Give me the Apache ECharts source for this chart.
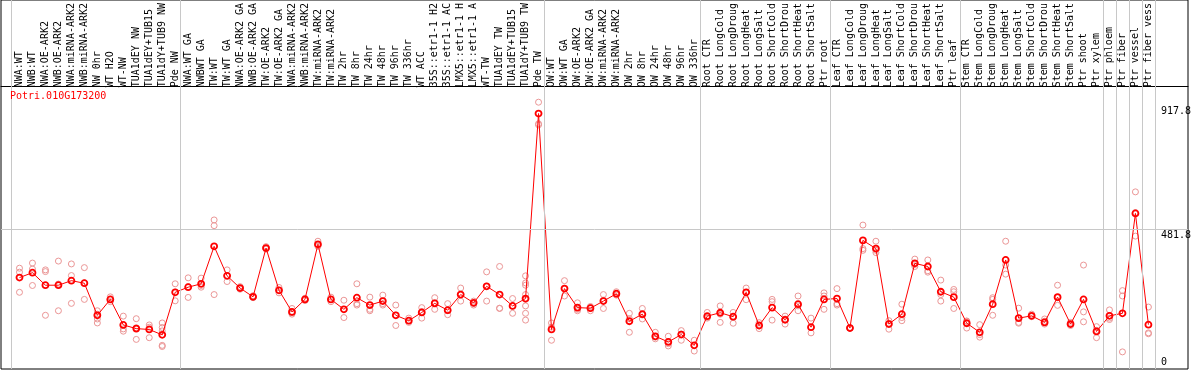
<!DOCTYPE html>
<html><head><meta charset="utf-8">
<script src="https://cdn.jsdelivr.net/npm/echarts@6/dist/echarts.min.js"></script>
<style>html,body{margin:0;padding:0;background:#fff}#c{width:1194px;height:370px}</style>
</head><body><div id="c"></div>
<script>
const geneId = 'Potri.010G173200';
const categories = [
  'NWA:WT','NWB:WT','NWA:OE-ARK2','NWB:OE-ARK2','NWA:miRNA-ARK2','NWB:miRNA-ARK2','NW 0hr','WT H2O','WT-NW','TUA1dEY NW',
  'TUA1dEY+TUB15','TUA1dY+TUB9 NW','Pde NW','NWA:WT GA','NWBWT GA','TW:WT','TW:WT GA','NWA:OE-ARK2 GA','NWB:OE-ARK2 GA','TW:OE-ARK2',
  'TW:OE-ARK2 GA','NWA:miRNA-ARK2','NWB:miRNA-ARK2','TW:miRNA-ARK2','TW:miRNA-ARK2','TW 2hr','TW 8hr','TW 24hr','TW 48hr','TW 96hr',
  'TW 336hr','WT ACC','35S::etr1-1 H2','35S::etr1-1 AC','LMX5::etr1-1 H','LMX5::etr1-1 A','WT-TW','TUA1dEY TW','TUA1dEY+TUB15','TUA1dY+TUB9 TW',
  'Pde TW','OW:WT','OW:WT GA','OW:OE-ARK2','OW:OE-ARK2 GA','OW:miRNA-ARK2','OW:miRNA-ARK2','OW 2hr','OW 8hr','OW 24hr',
  'OW 48hr','OW 96hr','OW 336hr','Root CTR','Root LongCold','Root LongDroug','Root LongHeat','Root LongSalt','Root ShortCold','Root ShortDrou',
  'Root ShortHeat','Root ShortSalt','Ptr root','Leaf CTR','Leaf LongCold','Leaf LongDroug','Leaf LongHeat','Leaf LongSalt','Leaf ShortCold','Leaf ShortDrou',
  'Leaf ShortHeat','Leaf ShortSalt','Ptr leaf','Stem CTR','Stem LongCold','Stem LongDroug','Stem LongHeat','Stem LongSalt','Stem ShortCold','Stem ShortDrou',
  'Stem ShortHeat','Stem ShortSalt','Ptr shoot','Ptr xylem','Ptr phloem','Ptr fiber','Ptr vessel','Ptr fiber vess'
];
const means = [
  316,333,289,289,305,296,183,239,149,136,
  133,114,264,282,294,426,322,279,248,420,
  271,195,239,433,239,204,245,219,233,183,
  164,193,225,201,256,227,285,256,216,242,
  894,133,277,210,208,233,259,162,187,109,
  89,115,77,180,192,178,264,147,210,167,
  222,141,239,242,138,447,418,152,187,366,
  355,266,247,155,123,222,378,173,181,158,
  247,152,239,126,181,190,542,150
];
const replicates = [
  [349,335,264],[367,346,288],[343,337,183],[374,293,199],[364,323,225],[351,297,239],[199,187,170,156],[248,239,231],[180,135,127],[171,139,98],
  [149,141,104],[156,140,128,77,73],[294,265,234],[315,284,246],[314,288,282],[519,499,256],[343,322,302],[284,279,275],[252,246,245],[425,420,416],
  [281,271,262],[207,192,187],[243,239,235],[444,430,426],[247,239,231],[236,204,175],[294,224,219],[247,204,199],[254,224,219],[219,184,147],
  [173,164,158],[210,196,173],[245,227,204],[224,199,185],[279,256,233],[233,224,219],[336,285,233],[355,208,207],[242,215,190],[322,297,289,256,239,216,190,166],
  [934,858,854],[156,141,95],[305,276,251],[227,204,199],[214,211,199],[256,236,207],[266,256,254],[190,171,123],[207,184,170],[123,106,100],
  [109,83,75],[129,117,95],[95,77,57],[193,176,173],[216,187,158],[193,175,155],[279,264,238],[157,146,136],[239,231,166],[180,170,152],
  [251,216,199],[173,141,121],[262,251,204],[277,224,219],[140,138,137],[501,418,412],[444,412,404],[164,155,134],[222,175,164],[381,362,355],
  [378,340,335],[307,256,233],[274,266,207],[163,162,138],[150,115,106],[245,239,183],[444,360,328],[208,158,155],[187,179,178],[170,162,152],
  [289,245,218],[158,152,147],[360,195,160],[143,130,104],[202,173,168],[270,251,54],[618,545,462],[212,121,118]
];
const groupStarts = [0, 13, 41, 53, 63, 73, 84, 85, 86, 87, 88];
const yTickLabels = [481.8, 917.8];
const yZeroLabel = [0];
const gridLineValue = 481.8;

const FONT = 'DejaVu Sans Mono';
const Y_MIN = -6.32, Y_MAX = 1279.1;
const SEP_OFFSET = -0.615;

const repData = [];
replicates.forEach((arr, i) => arr.forEach(v => repData.push([i, v])));

const chart = echarts.init(document.getElementById('c'), null, {renderer: 'canvas'});
chart.setOption({
  animation: false,
  backgroundColor: '#fff',
  title: {
    text: geneId, left: 10, top: 91, padding: 0,
    textStyle: {color: '#ff0000', fontFamily: FONT, fontSize: 10, fontWeight: 'normal'}
  },
  grid: [
    {left: 13, right: 37, top: -1, bottom: 1},
    {left: 1, right: 6, top: -1, bottom: 1, show: true, borderColor: '#000', borderWidth: 1, backgroundColor: 'transparent'}
  ],
  xAxis: [
    {
      type: 'category', gridIndex: 0, data: categories, position: 'top', offset: -86, boundaryGap: true,
      axisLine: {show: false}, axisTick: {show: false}, splitLine: {show: false},
      axisLabel: {interval: 0, rotate: 90, margin: 3, fontFamily: FONT, fontSize: 10, color: '#000'}
    },
    {
      type: 'value', gridIndex: 1, min: -1.4231, max: 89.885, position: 'top', offset: -86,
      axisLine: {show: true, onZero: false, lineStyle: {color: '#000', width: 1}},
      axisTick: {show: false}, axisLabel: {show: false}, splitLine: {show: false}
    }
  ],
  yAxis: [
    {
      type: 'value', gridIndex: 0, min: Y_MIN, max: Y_MAX, position: 'right',
      axisLine: {show: false}, axisTick: {show: false}, splitLine: {show: false},
      axisLabel: {customValues: yTickLabels, margin: 6, verticalAlign: 'top', align: 'left',
        fontFamily: FONT, fontSize: 10, color: '#000', formatter: v => String(v)}
    },
    {
      type: 'value', gridIndex: 0, min: Y_MIN, max: Y_MAX, position: 'right',
      axisLine: {show: false}, axisTick: {show: false}, splitLine: {show: false},
      axisLabel: {customValues: yZeroLabel, margin: 6, verticalAlign: 'bottom', align: 'left',
        fontFamily: FONT, fontSize: 10, color: '#000', formatter: v => String(v)}
    },
    {
      type: 'value', gridIndex: 1, min: Y_MIN, max: Y_MAX, show: false,
      splitLine: {show: false}
    }
  ],
  series: [
    {
      type: 'line', xAxisIndex: 1, yAxisIndex: 2, data: [], z: 1, silent: true,
      markLine: {
        silent: true, symbol: ['none', 'none'], animation: false,
        label: {show: false},
        lineStyle: {color: '#c8c8c8', type: 'solid', width: 1},
        data: groupStarts.map(s => ({xAxis: s + SEP_OFFSET})).concat([{yAxis: gridLineValue}])
      }
    },
    {
      type: 'scatter', xAxisIndex: 0, yAxisIndex: 0, data: repData, z: 2, silent: true,
      symbol: 'circle', symbolSize: 6,
      itemStyle: {color: 'rgba(0,0,0,0)', borderColor: '#eb9696', borderWidth: 1, opacity: 1}
    },
    {
      type: 'line', xAxisIndex: 0, yAxisIndex: 0, data: means, z: 3, silent: true,
      showAllSymbol: true, symbol: 'circle', symbolSize: 6,
      itemStyle: {color: 'rgba(0,0,0,0)', borderColor: '#ff0000', borderWidth: 1.8},
      lineStyle: {color: '#ff0000', width: 1}
    }
  ]
});
</script>
</body></html>
